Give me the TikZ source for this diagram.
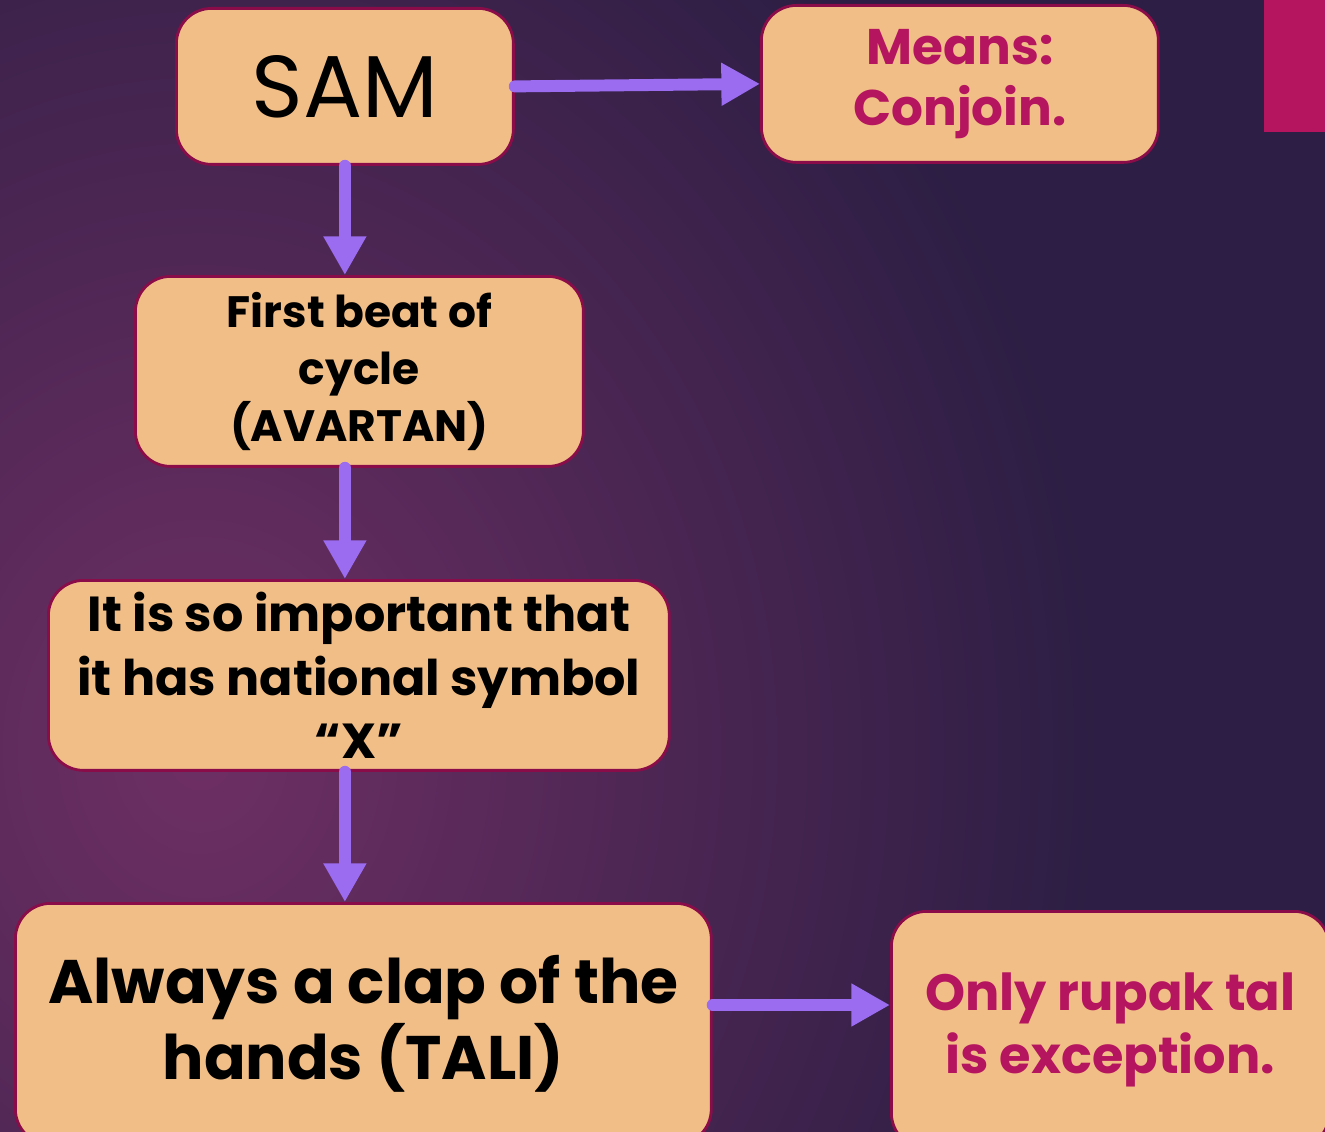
\documentclass[tikz,border=0pt]{standalone}
\usepackage{fontspec}
\setmainfont{Poppins}
\usepackage{xcolor}
\usetikzlibrary{arrows.meta,positioning,calc}
\definecolor{peach}{HTML}{F2BE87}
\definecolor{boxline}{HTML}{8A0C48}
\definecolor{pinktext}{HTML}{B5155F}
\definecolor{arrowviolet}{HTML}{9B6BF0}
\definecolor{bgdark}{HTML}{2C1E44}
\definecolor{bglight}{HTML}{6E2F64}

\begin{document}
\begin{tikzpicture}[x=0.02cm,y=-0.02cm,
	tbox/.style={draw=boxline,line width=1.6pt,fill=peach,rounded corners=20pt,
		inner sep=0pt,align=center,anchor=north west},
	arr/.style={-{Triangle[length=22pt,width=23pt]},line width=6.8pt,arrowviolet,line cap=round}]
		\useasboundingbox (0,0) rectangle (1325,1132);
		\clip (0,0) rectangle (1325,1132);
		% background
		\fill[bgdark] (0,0) rectangle (1325,1132);
		\shade[inner color=bglight,outer color=bgdark] (-700,-300) rectangle (1100,1800);
		\fill[pinktext] (1264,0) rectangle (1330,132);
		% boxes
		\node[tbox,minimum width=6.74cm,minimum height=3.12cm,
			font=\fontsize{50}{52}\selectfont] (sam) at (175,7) {SAM};
		\node[tbox,minimum width=7.94cm,minimum height=3.14cm,text=pinktext,
			font=\fontsize{28.5}{35}\selectfont\bfseries] (means) at (760,4) {Means:\\Conjoin.};
		\node[tbox,minimum width=8.96cm,minimum height=3.8cm,
			font=\fontsize{25}{32.3}\selectfont\bfseries] (first) at (134,275)
			{First beat of\\cycle\\(AVARTAN)};
		\node[tbox,minimum width=12.42cm,minimum height=3.8cm,
			font=\fontsize{28}{36.3}\selectfont\bfseries] (important) at (47,579)
			{It is so important that\\it has national symbol\\``X''};
		\node[tbox,minimum width=13.92cm,minimum height=4.82cm,
			font=\fontsize{35}{43}\selectfont\bfseries] (always) at (14,902)
			{Always a clap of the\\hands (TALI)};
		\node[tbox,minimum width=8.76cm,minimum height=4.74cm,text=pinktext,
			font=\fontsize{29}{35.7}\selectfont\bfseries] (only) at (890,910)
			{Only rupak tal\\is exception.};
		% arrows
		\draw[arr] (sam.east) -- (means.west);
		\draw[arr] (sam.south) -- (sam.south |- first.north);
		\draw[arr] (sam.south |- first.south) -- (sam.south |- important.north);
		\draw[arr] (sam.south |- important.south) -- (sam.south |- always.north);
		\draw[arr] (always.east |- 0,1005) -- (only.west |- 0,1005);
	\end{tikzpicture}
\end{document}
